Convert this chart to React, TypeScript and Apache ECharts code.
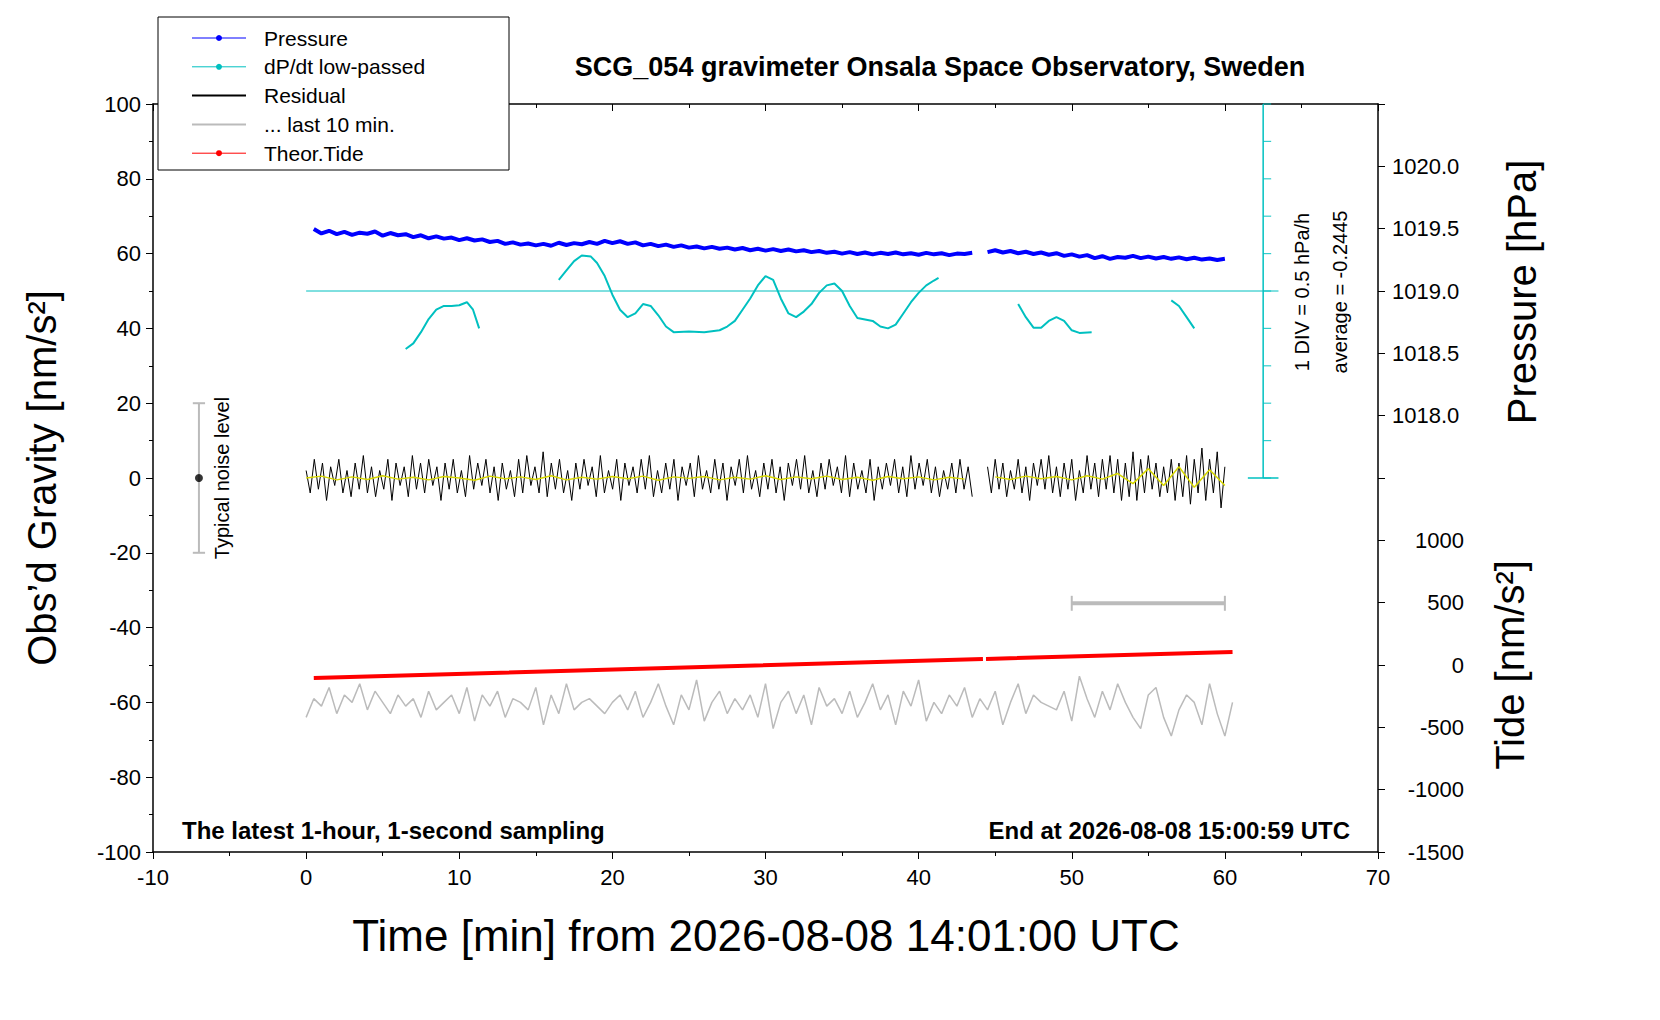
import React, { useEffect, useRef } from "react";
import * as echarts from "echarts";

// pressure, plotted on the gravity scale, every 0.5 min from 0.5
const pressure = [
  66.6, 65.4, 66.1, 65.2, 65.8, 65.0, 65.6, 65.3, 65.9, 64.8, 65.5, 64.9, 65.2, 64.4, 64.9, 64.1, 64.6, 64.0,
  64.3, 63.6, 64.1, 63.5, 63.8, 63.1, 63.4, 62.6, 63.0, 62.4, 62.7, 62.2, 62.6, 62.1, 62.9, 62.3, 62.8, 62.5,
  63.1, 62.6, 63.4, 62.8, 63.3, 62.6, 63.0, 62.2, 62.6, 62.0, 62.4, 61.8, 62.2, 61.6, 61.9, 61.4, 61.8, 61.3,
  61.6, 61.1, 61.5, 60.9, 61.3, 60.8, 61.2, 60.7, 61.1, 60.6, 60.9, 60.4, 60.7, 60.2, 60.5, 60.0, 60.4, 59.9,
  60.3, 59.8, 60.2, 59.9, 60.3, 59.8, 60.1, 59.7, 60.2, 59.8, 60.1, 59.6, 60.0, 59.9, 60.2, null, 60.4, 60.9,
  60.3, 60.7, 60.1, 60.5, 59.9, 60.3, 59.7, 60.1, 59.4, 59.8, 59.2, 59.6, 58.8, 59.3, 58.6, 59.1, 58.9, 59.4,
  58.8, 59.2, 58.7, 59.1, 58.6, 59.0, 58.5, 58.9, 58.4, 58.7, 58.3, 58.6,
];

// dP/dt low-passed segments: [minute, value]
const dpdt: (number[] | string)[] = [
  [6.5, 34.5], [7, 36], [7.5, 39], [8, 42.5], [8.5, 45], [9, 46], [9.5, 46], [10, 46.2], [10.5, 47], [10.9, 45], [11.3, 40], "-",
  [16.5, 53], [17, 55.5], [17.5, 58], [18, 59.5], [18.6, 59.2], [19, 57.5], [19.5, 54], [20, 49], [20.5, 45], [21, 43],
  [21.5, 44], [22, 46.5], [22.5, 46], [23, 43.5], [23.5, 40.5], [24, 39], [25, 39.2], [26, 39], [27, 39.5], [27.5, 40.5],
  [28, 42], [28.5, 45], [29, 48], [29.5, 51.5], [30, 54], [30.5, 53], [31, 48], [31.5, 44], [32, 43], [32.5, 44.5],
  [33, 46.5], [33.5, 49.5], [34, 51.5], [34.5, 52], [35, 50], [35.5, 46], [36, 42.8], [37, 42], [37.5, 40.5], [38, 40],
  [38.5, 41], [39, 44], [39.5, 47], [40, 49.5], [40.5, 51.5], [41, 52.8], [41.3, 53.5], "-",
  [46.5, 46.5], [47, 43], [47.5, 40.2], [48, 40.2], [48.5, 42], [49, 43], [49.5, 42], [50, 39.5], [50.5, 38.8], [51.3, 39], "-",
  [56.5, 47.5], [57, 46], [57.5, 43], [58, 40],
];
const dpdtAverage = 50;

// residual before the gap (0 to 43.5 min)
const residualA = [
  2, -4, 5, -3, 4, -6, 3, -2, 5, -4, 2, -5, 4, -3, 6, -4, 3, -5, 2, -3, 5, -6, 4, -2, 3, -5, 6, -3, 4, -4,
  5, -2, 3, -6, 4, -3, 5, -4, 2, -5, 6, -3, 4, -2, 5, -4, 3, -6, 4, -3, 2, -5, 5, -4, 6, -2, 3, -4, 7, -5,
  4, -3, 5, -4, 2, -6, 4, -3, 5, -2, 3, -5, 6, -4, 2, -3, 5, -6, 4, -2, 3, -4, 5, -3, 6, -5, 2, -4, 4, -3,
  5, -6, 3, -2, 4, -5, 6, -3, 2, -4, 5, -3, 4, -6, 3, -2, 5, -4, 6, -3, 2, -5, 4, -3, 5, -4, 3, -6, 4, -2,
  5, -3, 6, -4, 2, -5, 4, -3, 5, -2, 3, -4, 6, -5, 4, -3, 2, -4, 5, -6, 3, -3, 4, -2, 5, -4, 3, -5, 6, -3,
  4, -2, 5, -4, 3, -5, 2, -3, 4, -4, 5, -3, 3, -5,
];
// residual after the gap (44.5 to 60 min)
const residualB = [
  3, -4, 5, -3, 4, -5, 2, -3, 5, -4, 3, -6, 4, -2, 5, -3, 6, -4, 3, -5, 4, -3, 5, -6, 2, -4, 6, -3, 4, -5,
  5, -3, 6, -4, 5, -6, 4, -5, 7, -6, 5, -4, 6, -3, 4, -5, 3, -4, 5, -6, 4, -5, 6, -7, 5, -4, 8, -6, 5, -4,
  7, -8, 3,
];

// smoothed residual (yellow), every 1 min from 0
const residualSmooth = [
  0, 0.5, -0.5, 0.3, -0.4, 0.6, -0.3, 0.2, -0.5, 0.4, 0, -0.6, 0.5, -0.2, 0.3, -0.4, 0.6, -0.5, 0.2, -0.3,
  0.4, -0.2, 0.5, -0.6, 0.3, -0.1, 0.4, -0.5, 0.2, -0.3, 0.6, -0.4, 0.3, -0.2, 0.5, -0.4, 0.2, -0.6, 0.4, -0.2,
  0.3, -0.5, 0.2, -0.3, null, 0.3, -0.4, 0.5, -0.2, 0.4, -0.5, 0.6, -0.3, 1.2, -1.5, 2.5, -2, 3, -2.5, 2.2, -2,
];

// gray "last 10 min" trace, every 0.5 min from 0
const lastTen = [
  -64, -59, -61, -56, -63, -58, -60, -55, -62, -57, -60, -63, -58, -61, -59, -64, -57, -62, -60, -58, -63, -56, -65, -58,
  -61, -57, -64, -59, -60, -62, -56, -66, -58, -63, -55, -62, -60, -59, -61, -63, -60, -58, -62, -57, -64, -60, -55, -61,
  -66, -58, -62, -54, -65, -60, -57, -63, -59, -62, -58, -64, -55, -67, -60, -57, -63, -58, -66, -56, -61, -59, -63, -57,
  -64, -60, -55, -62, -58, -66, -57, -61, -54, -65, -60, -63, -58, -61, -56, -64, -59, -62, -57, -66, -60, -55, -63, -58,
  -60, -61, -62, -57, -65, -53, -59, -64, -57, -62, -55, -60, -64, -67, -58, -56, -64, -69, -62, -58, -60, -66, -55, -63,
  -69, -60,
];

// theoretical tide (nm/s^2)
const tide: (number[] | string)[] = [[0.5, -104], [44.2, 48], "-", [44.4, 49], [60.5, 104]];

const scaleBar = [[50, -33.5], [60, -33.5]];
const noiseBar = [[-7, -20], [-7, 20]];
const cyanTicks = [0, 10, 20, 30, 40, 50, 60, 70, 80, 90, 100];

const App = () => {
  const chartRef = useRef<HTMLDivElement>(null);

  useEffect(() => {
    if (!chartRef.current) return;
    document.body.style.margin = "0";
    const chart = echarts.init(chartRef.current, null, { renderer: "svg" });

    const font = "Liberation Sans, Arial, sans-serif";
    const pData = pressure.map((v, i) => [0.5 + i * 0.5, v]);
    const rData = [
      ...residualA.map((v, i) => [(i * 43.5) / (residualA.length - 1), v]),
      "-",
      ...residualB.map((v, i) => [44.5 + (i * 15.5) / (residualB.length - 1), v]),
    ];
    const sData = residualSmooth.map((v, i) => [i, v]);
    const gData = lastTen.map((v, i) => [i * 0.5, v]);

    const legendRows = [
      { name: "Pressure", color: "#0000ff", dot: true },
      { name: "dP/dt low-passed", color: "#00c0c0", dot: true },
      { name: "Residual", color: "#000000", dot: false },
      { name: "... last 10 min.", color: "#bbbbbb", dot: false },
      { name: "Theor.Tide", color: "#ff0000", dot: true },
    ];
    const legendEls: any[] = [
      { type: "rect", shape: { x: 158, y: 17, width: 351, height: 153 }, style: { fill: "#fff", stroke: "#000", lineWidth: 1 }, z: 100 },
    ];
    legendRows.forEach((r, i) => {
      const y = 38 + i * 28.8;
      legendEls.push({ type: "line", shape: { x1: 192, y1: y, x2: 246, y2: y }, style: { stroke: r.color, lineWidth: r.dot ? 1 : 2 }, z: 101 });
      if (r.dot) legendEls.push({ type: "circle", shape: { cx: 219, cy: y, r: 3 }, style: { fill: r.color }, z: 101 });
      legendEls.push({ type: "text", x: 264, y, style: { text: r.name, fontSize: 21, fontFamily: font, fill: "#000", verticalAlign: "middle" }, z: 101 });
    });

    const line = { onZero: false, lineStyle: { color: "#000", width: 1.5 } };

    const option: any = {
      animation: false,
      backgroundColor: "#fff",
      grid: { left: 153, right: 282, top: 104, bottom: 168 },
      xAxis: [
        {
          type: "value", min: -10, max: 70, interval: 10,
          axisLine: line,
          axisTick: { length: 7, lineStyle: { color: "#000" } },
          minorTick: { show: true, splitNumber: 2, length: 4, lineStyle: { color: "#000" } },
          axisLabel: { fontSize: 22, color: "#000", fontFamily: font, margin: 14 },
          splitLine: { show: false },
        },
        {
          type: "value", min: -10, max: 70, interval: 10, position: "top",
          axisLine: line,
          axisTick: { inside: true, length: 7, lineStyle: { color: "#000" } },
          minorTick: { show: true, splitNumber: 2, length: 4, lineStyle: { color: "#000" } },
          axisLabel: { show: false }, splitLine: { show: false },
        },
      ],
      yAxis: [
        {
          type: "value", min: -100, max: 100, interval: 20,
          axisLine: { show: true, ...line },
          axisTick: { length: 7, lineStyle: { color: "#000" } },
          minorTick: { show: true, splitNumber: 2, length: 4, lineStyle: { color: "#000" } },
          axisLabel: { fontSize: 22, color: "#000", fontFamily: font, margin: 12 },
          splitLine: { show: false },
        },
        {
          type: "value", min: 1014.5, max: 1020.5, interval: 0.5, position: "right",
          axisLine: { show: true, ...line },
          axisTick: { length: 7, lineStyle: { color: "#000" } },
          axisLabel: {
            fontSize: 22, color: "#000", fontFamily: font, margin: 14,
            formatter: (v: number) => (v >= 1017.99 && v <= 1020.01 ? v.toFixed(1) : ""),
          },
          splitLine: { show: false },
        },
        {
          type: "value", min: -1500, max: 4500, interval: 500, position: "right",
          axisLine: { show: false, onZero: false },
          axisTick: { show: false },
          axisLabel: {
            fontSize: 22, color: "#000", fontFamily: font, margin: 14, align: "right",
            padding: [0, -72, 0, 0],
            formatter: (v: number) => (v <= 1000 ? String(v) : ""),
          },
          splitLine: { show: false },
        },
      ],
      series: [
        { type: "line", data: gData, symbol: "none", lineStyle: { color: "#bbbbbb", width: 1.5 }, z: 2 },
        { type: "line", data: rData, symbol: "none", lineStyle: { color: "#000", width: 1 }, z: 3 },
        { type: "line", data: sData, symbol: "none", connectNulls: false, lineStyle: { color: "#d8d800", width: 1.5 }, z: 4 },
        { type: "line", data: pData, symbol: "none", connectNulls: false, lineStyle: { color: "#0000ff", width: 4 }, z: 3 },
        { type: "line", data: dpdt, symbol: "none", lineStyle: { color: "#00c0c0", width: 2 }, z: 3 },
        { type: "line", data: [[0, dpdtAverage], [63.5, dpdtAverage]], symbol: "none", lineStyle: { color: "#00c0c0", width: 1 }, z: 2 },
        { type: "line", data: [[62.5, 0], [62.5, 100]], symbol: "none", lineStyle: { color: "#00c0c0", width: 1.5 }, z: 2 },
        { type: "line", data: [[61.5, 0], [63.5, 0]], symbol: "none", lineStyle: { color: "#00c0c0", width: 1.5 }, z: 2 },
        {
          type: "scatter", data: cyanTicks.map((v) => [62.5, v]), symbol: "rect", symbolSize: [8, 1.2], symbolOffset: [4, 0],
          itemStyle: { color: "#00c0c0" }, z: 2,
        },
        { type: "line", data: tide, yAxisIndex: 2, symbol: "none", lineStyle: { color: "#ff0000", width: 4 }, z: 3 },
        { type: "line", data: scaleBar, symbol: "none", lineStyle: { color: "#bbbbbb", width: 4 }, z: 3 },
        { type: "line", data: [[50, -31.5], [50, -35.5]], symbol: "none", lineStyle: { color: "#bbbbbb", width: 2 }, z: 3 },
        { type: "line", data: [[60, -31.5], [60, -35.5]], symbol: "none", lineStyle: { color: "#bbbbbb", width: 2 }, z: 3 },
        { type: "line", data: noiseBar, symbol: "none", lineStyle: { color: "#bbbbbb", width: 2 }, z: 3 },
        { type: "line", data: [[-7.4, 20], [-6.6, 20]], symbol: "none", lineStyle: { color: "#bbbbbb", width: 2 }, z: 3 },
        { type: "line", data: [[-7.4, -20], [-6.6, -20]], symbol: "none", lineStyle: { color: "#bbbbbb", width: 2 }, z: 3 },
        { type: "scatter", data: [[-7, 0]], symbol: "circle", symbolSize: 8, itemStyle: { color: "#000" }, z: 4 },
      ],
      graphic: [
        { type: "text", x: 940, y: 67, style: { text: "SCG_054 gravimeter Onsala Space Observatory, Sweden", fontSize: 27, fontWeight: "bold", fontFamily: font, fill: "#000", align: "center", verticalAlign: "middle" } },
        { type: "text", x: 182, y: 830, style: { text: "The latest 1-hour, 1-second sampling", fontSize: 24, fontWeight: "bold", fontFamily: font, fill: "#000", verticalAlign: "middle" } },
        { type: "text", x: 1350, y: 830, style: { text: "End at 2026-08-08 15:00:59 UTC", fontSize: 24, fontWeight: "bold", fontFamily: font, fill: "#000", align: "right", verticalAlign: "middle" } },
        { type: "text", x: 766, y: 935, style: { text: "Time [min] from 2026-08-08 14:01:00 UTC", fontSize: 44, fontFamily: font, fill: "#000", align: "center", verticalAlign: "middle" } },
        { type: "text", x: 42, y: 478, rotation: Math.PI / 2, style: { text: "Obs’d Gravity [nm/s²]", fontSize: 40, fontFamily: font, fill: "#000", align: "center", verticalAlign: "middle" } },
        { type: "text", x: 1522, y: 292, rotation: Math.PI / 2, style: { text: "Pressure [hPa]", fontSize: 40, fontFamily: font, fill: "#000", align: "center", verticalAlign: "middle" } },
        { type: "text", x: 1510, y: 665, rotation: Math.PI / 2, style: { text: "Tide [nm/s²]", fontSize: 40, fontFamily: font, fill: "#000", align: "center", verticalAlign: "middle" } },
        { type: "text", x: 222, y: 478, rotation: Math.PI / 2, style: { text: "Typical noise level", fontSize: 20, fontFamily: font, fill: "#000", align: "center", verticalAlign: "middle" } },
        { type: "text", x: 1302, y: 292, rotation: Math.PI / 2, style: { text: "1 DIV = 0.5 hPa/h", fontSize: 20, fontFamily: font, fill: "#000", align: "center", verticalAlign: "middle" } },
        { type: "text", x: 1340, y: 292, rotation: Math.PI / 2, style: { text: "average = -0.2445", fontSize: 20, fontFamily: font, fill: "#000", align: "center", verticalAlign: "middle" } },
        ...legendEls,
      ],
    };

    chart.setOption(option);
    const handleResize = () => chart.resize();
    window.addEventListener("resize", handleResize);
    return () => {
      chart.dispose();
      window.removeEventListener("resize", handleResize);
    };
  }, []);

  return <div ref={chartRef} style={{ width: "1660px", height: "1020px" }} />;
};

export default App;
